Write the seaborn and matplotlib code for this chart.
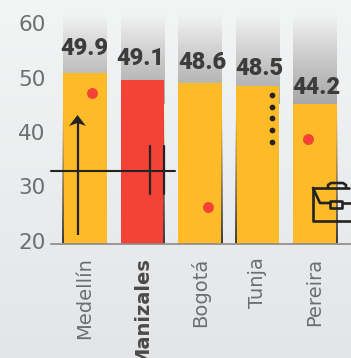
import numpy as np
import pandas as pd
import matplotlib
matplotlib.use("Agg")
import matplotlib.pyplot as plt
from matplotlib.colors import LinearSegmentedColormap
from matplotlib.patches import FancyBboxPatch
import seaborn as sns

# DATA
cities = ["Medellín", "Manizales", "Bogotá", "Tunja", "Pereira"]
value_labels = ["49.9", "49.1", "48.6", "48.5", "44.2"]
# bar tops, the picture does not place them exactly at the printed value
bar_tops = [50.8, 49.5, 48.9, 48.4, 45.1]
y_ticks = [20, 30, 40, 50, 60]
highlight = "Manizales"

YELLOW = "#fcbb27"
RED = "#f44336"
DARK = "#232323"
GREY_TEXT = "#6d6e70"
VALUE_TEXT = "#3c3c3c"

# pixel helpers, picture is 351x358
W, H = 351, 358
PX_PER_UNIT = 5.45
STEP = 57.5

# label offsets from the bar top, in px
label_dx = [-1, -2, 2, 1.5, 1.5]
label_gap = [18, 15, 14, 11, 10]

sns.set_theme(style="white")
plt.rcParams["font.family"] = ["DejaVu Sans"]

fig = plt.figure(figsize=(W / 100, H / 100), dpi=100)

# background gradient
bg = fig.add_axes([0, 0, 1, 1], zorder=0)
bg_cmap = LinearSegmentedColormap.from_list("bg", ["#f3f4f4", "#e4e5e7"])
bg.imshow(np.linspace(0, 1, 256).reshape(-1, 1), cmap=bg_cmap, aspect="auto")
bg.axis("off")

# main axes
left, right, top, bottom = 51, 351, 15, 243.7
ax = fig.add_axes([left / W, 1 - bottom / H, (right - left) / W, (bottom - top) / H], zorder=1)
ax.patch.set_alpha(0)

df = pd.DataFrame({"city": cities, "top": bar_tops})
palette = {c: (RED if c == highlight else YELLOW) for c in cities}
sns.barplot(data=df, x="city", y="top", hue="city", palette=palette, order=cities,
            width=0.765, saturation=1, legend=False, dodge=False, ax=ax, zorder=3,
            linewidth=0, edgecolor="none")

# grey fade behind each bar
y_low = 20 - (bottom - 241) / PX_PER_UNIT
y_high = 20 + (241 - top) / PX_PER_UNIT
fade = LinearSegmentedColormap.from_list("fade", ["#f1f2f2", "#d6d6d6", "#bdbdbd", "#a8a8a8"])
grad = np.linspace(0, 1, 128).reshape(-1, 1)
for i in range(len(cities)):
    ax.imshow(grad, cmap=fade, aspect="auto", zorder=2,
              extent=[i - 0.378, i + 0.378, 45.2, y_high])
ax.set_xlim((left - 85) / STEP, (right - 85) / STEP)
ax.set_ylim(y_low, y_high)

# value labels
for i, (lab, t) in enumerate(zip(value_labels, bar_tops)):
    ax.annotate(lab, (i, t), xytext=(label_dx[i] * 0.72, label_gap[i] * 0.72),
                textcoords="offset points", ha="center", va="baseline",
                fontsize=17, fontweight="black", color=VALUE_TEXT, family="Roboto", zorder=5)

# axes styling
sns.despine(ax=ax, left=True, top=True, right=True)
ax.spines["bottom"].set_color("#8a8a8a")
ax.spines["bottom"].set_linewidth(1.2)
ax.spines["bottom"].set_zorder(6)
ax.set_xlabel("")
ax.set_ylabel("")
ax.set_yticks(y_ticks)
ax.set_xticks(range(len(cities)))
ax.set_xticklabels(cities, rotation=90, ha="center", va="top", fontsize=14, color=GREY_TEXT)
for t in ax.get_xticklabels():
    if t.get_text() == highlight:
        t.set_fontweight("bold")
        t.set_color("#4a4a4a")
ax.tick_params(axis="x", length=0, pad=10)
ax.tick_params(axis="y", length=0, pad=4, labelsize=15.5, labelcolor=GREY_TEXT)

# overlay in pixel coordinates for the drawn icons
ov = fig.add_axes([0, 0, 1, 1], zorder=2)
ov.axis("off")

# thin edges fading upward
edge_x = [63, 164, 222, 236, 337]
for x in edge_x:
    ramp = np.ones((64, 1, 4))
    ramp[..., :3] = matplotlib.colors.to_rgb("#3d3d3d")
    ramp[..., 3] = np.linspace(0, 1, 64).reshape(-1, 1) ** 1.2
    ov.imshow(ramp, extent=[x - 0.6, x + 0.6, 243, 110], aspect="auto", zorder=1)
ov.set_xlim(0, W)
ov.set_ylim(H, 0)

# red dots and black dots
ov.scatter([92, 207.5, 307.5], [92.5, 207, 139], s=62, color=RED, linewidths=0, zorder=3)
ov.scatter([271.7] * 5, [95, 107, 118, 130, 141.7], s=17, color=DARK, linewidths=0, zorder=3)

# arrow
ov.plot([77.5, 77.5], [235, 122], color=DARK, lw=1.6, zorder=4, solid_capstyle="butt")
ov.fill([77.5, 69, 77.5, 86], [115, 126, 123, 126], color=DARK, lw=0, zorder=4)

# cross
ov.plot([51, 175], [171, 171], color=DARK, lw=1.5, zorder=4)
for x in [149.5, 164]:
    ov.plot([x, x], [146, 194], color=DARK, lw=1.6, zorder=4)

# briefcase
lw = 1.9
ov.plot([313, 349], [188, 188], color=DARK, lw=lw, zorder=4)
ov.plot([313, 313, 351], [188, 221, 221], color=DARK, lw=lw, zorder=4)
ov.plot([313, 320, 330], [188, 203, 203], color=DARK, lw=lw, zorder=4)
ov.plot([343, 351], [203, 203], color=DARK, lw=lw, zorder=4)
ov.plot([328, 328, 331, 343, 346, 346], [188, 185, 183, 183, 185, 188], color=DARK, lw=lw, zorder=4)
ov.add_patch(FancyBboxPatch((331, 202), 11, 6, boxstyle="round,pad=0.5", fill=False,
                            edgecolor=DARK, lw=lw, zorder=5))

fig.savefig("out.png", dpi=100)
